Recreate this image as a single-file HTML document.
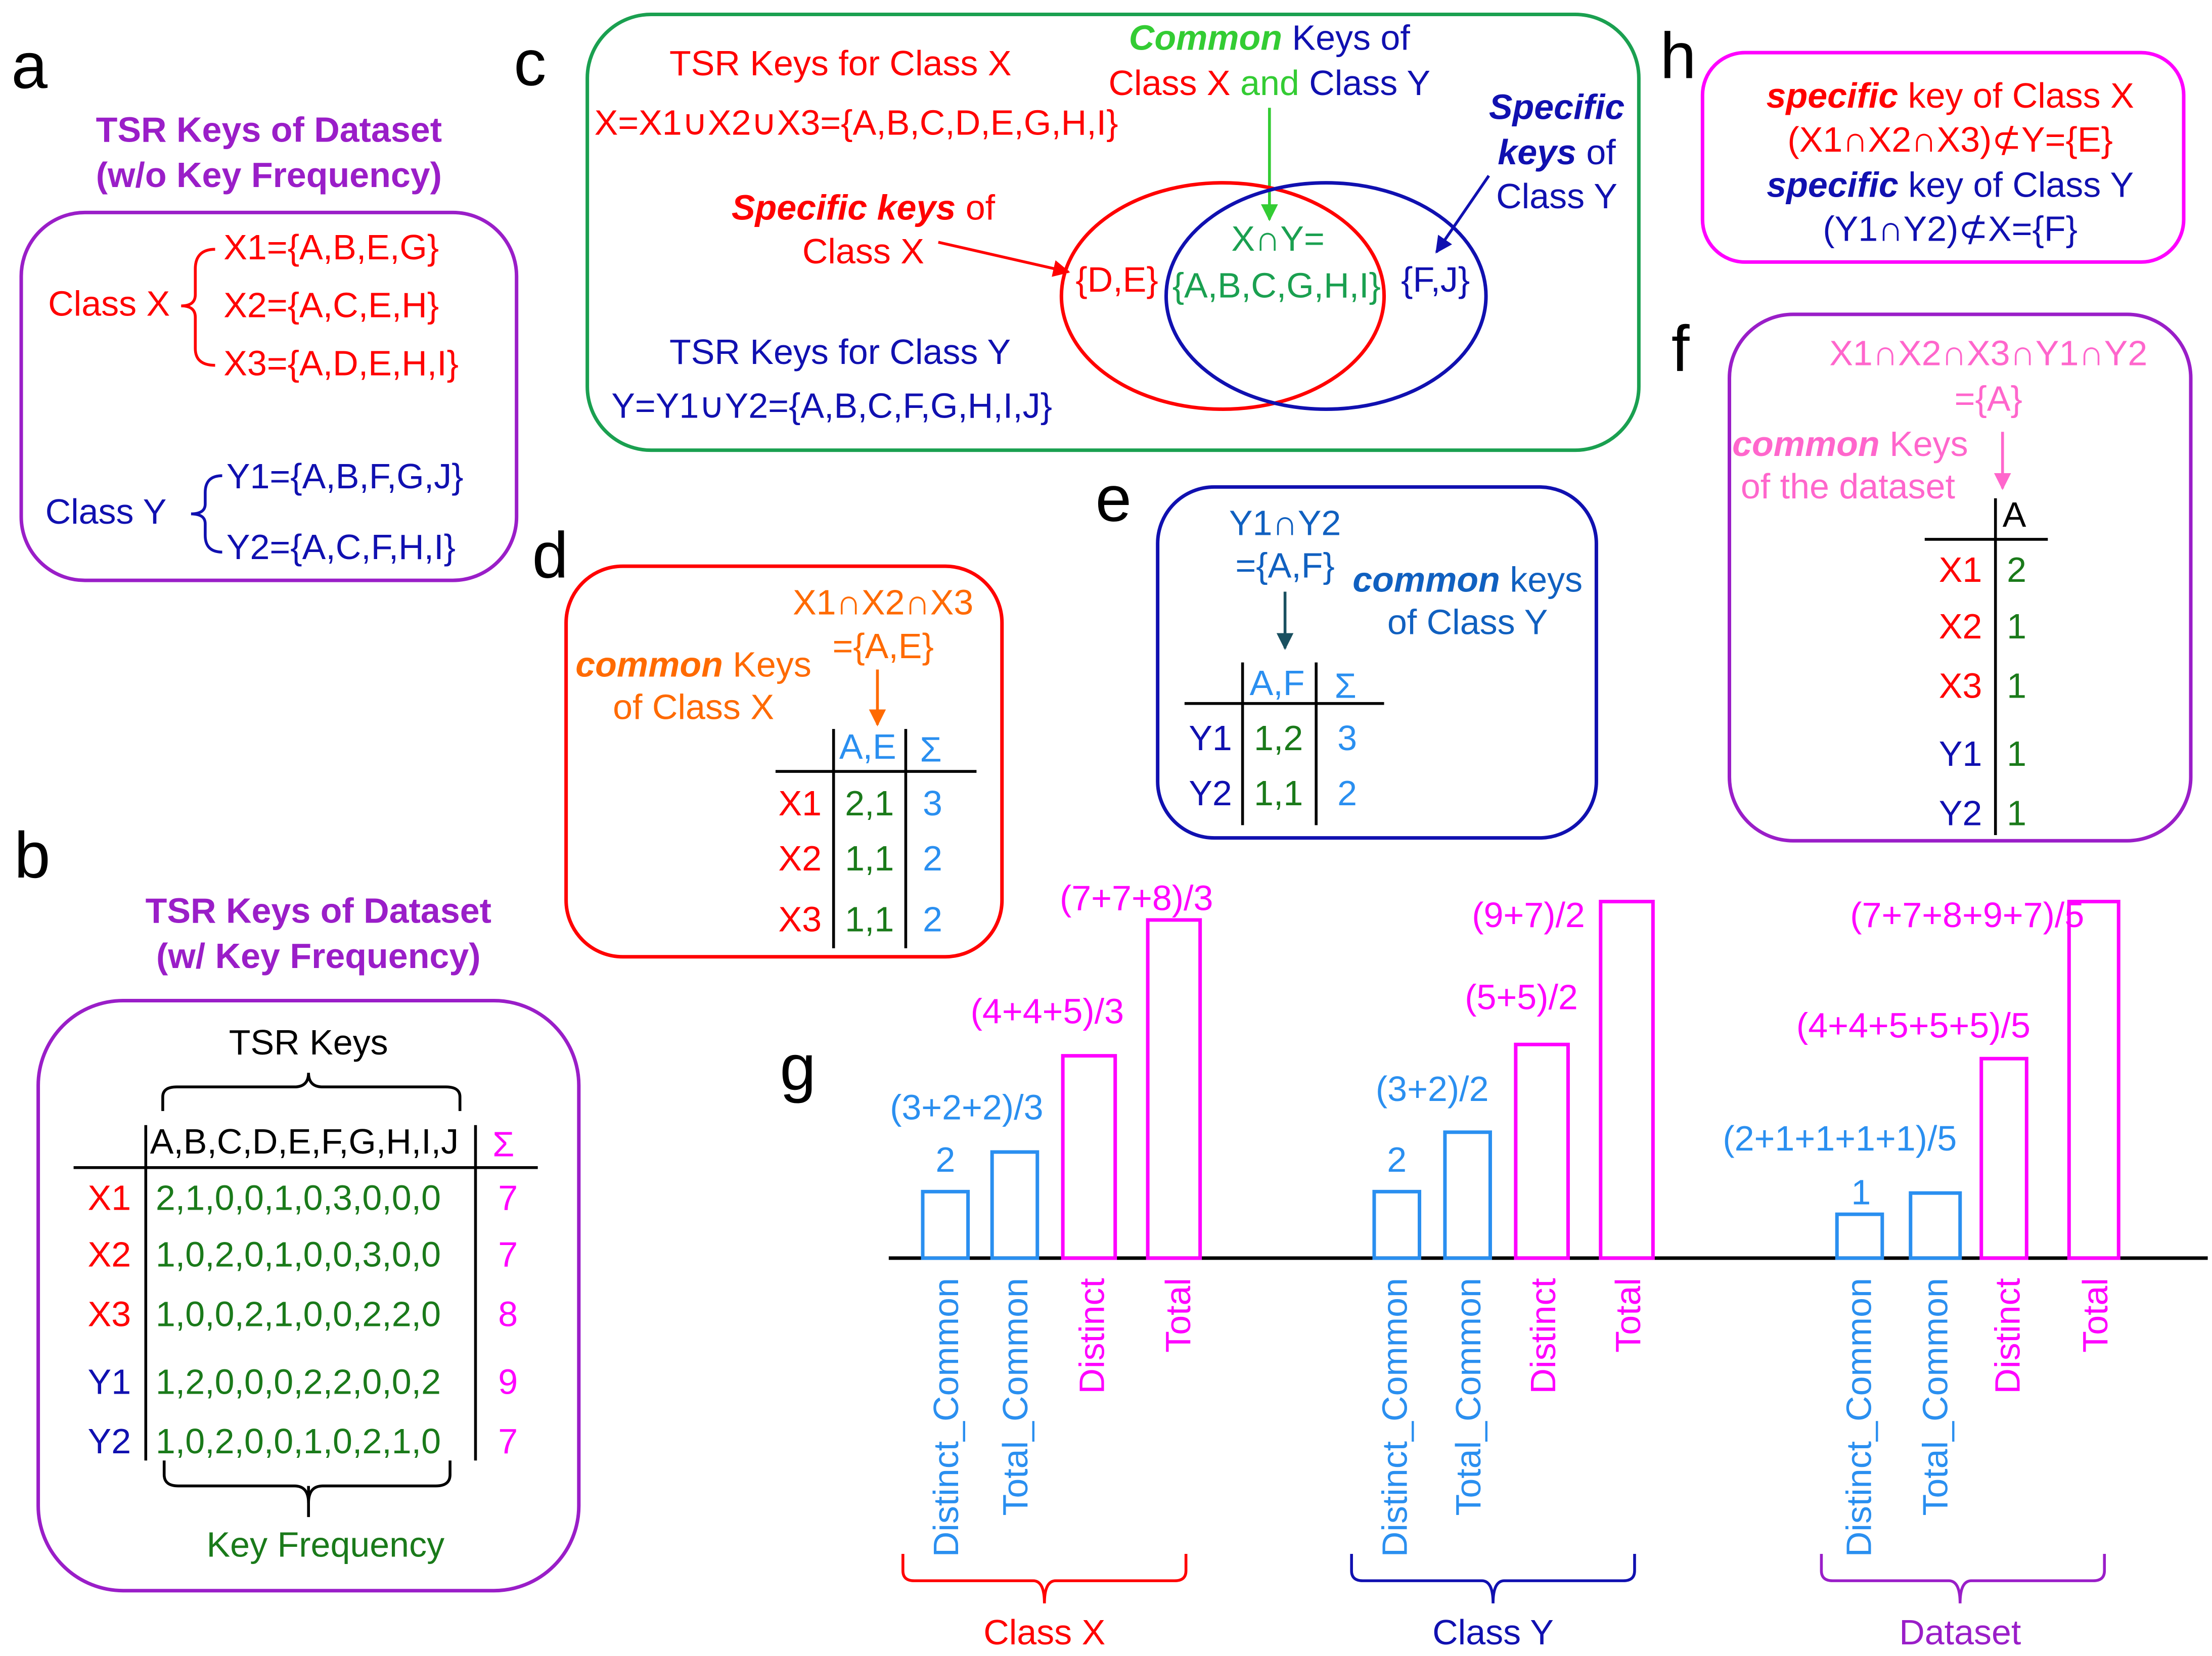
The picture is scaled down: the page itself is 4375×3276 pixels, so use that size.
<!DOCTYPE html>
<html><head><meta charset="utf-8"><style>
html,body{margin:0;padding:0;background:#fff}
svg{display:block}
text{font-family:"Liberation Sans",sans-serif;font-size:25px}
.L{font-size:46px;fill:#000}
.bi{font-weight:bold;font-style:italic}
</style></head><body>
<svg width="4375" height="3276" viewBox="0 0 1563 1170" xmlns="http://www.w3.org/2000/svg">
<defs>
<marker id="ag" viewBox="0 0 10 10" refX="9" refY="5" markerWidth="6" markerHeight="6" orient="auto"><path d="M0,0L10,5L0,10z" fill="#33cc33"/></marker>
<marker id="ar" viewBox="0 0 10 10" refX="9" refY="5" markerWidth="6" markerHeight="6" orient="auto"><path d="M0,0L10,5L0,10z" fill="#f00"/></marker>
<marker id="ab" viewBox="0 0 10 10" refX="9" refY="5" markerWidth="6" markerHeight="6" orient="auto"><path d="M0,0L10,5L0,10z" fill="#1010b0"/></marker>
<marker id="ao" viewBox="0 0 10 10" refX="9" refY="5" markerWidth="6" markerHeight="6" orient="auto"><path d="M0,0L10,5L0,10z" fill="#ff6a00"/></marker>
<marker id="at" viewBox="0 0 10 10" refX="9" refY="5" markerWidth="6" markerHeight="6" orient="auto"><path d="M0,0L10,5L0,10z" fill="#1a5060"/></marker>
<marker id="ap" viewBox="0 0 10 10" refX="9" refY="5" markerWidth="6" markerHeight="6" orient="auto"><path d="M0,0L10,5L0,10z" fill="#ff66cc"/></marker>
</defs>

<!-- a -->
<text class="L" x="8" y="62">a</text>
<g font-weight="bold" fill="#9a1ec8" text-anchor="middle"><text x="190" y="100">TSR Keys of Dataset</text><text x="190" y="132">(w/o Key Frequency)</text></g>
<rect x="15" y="150" width="350" height="260" rx="45" fill="none" stroke="#9a1ec8" stroke-width="2.5"/>
<g fill="#f00"><text x="34" y="223">Class X</text><text x="158" y="183">X1={A,B,E,G}</text><text x="158" y="224">X2={A,C,E,H}</text><text x="158" y="265">X3={A,D,E,H,I}</text></g>
<path d="M152,176 Q138,176 138,190 L138,208 Q138,216 128,216 Q138,216 138,224 L138,246 Q138,258 152,258" fill="none" stroke="#f00" stroke-width="2"/>
<g fill="#1010b0"><text x="32" y="370">Class Y</text><text x="160" y="345">Y1={A,B,F,G,J}</text><text x="160" y="395">Y2={A,C,F,H,I}</text></g>
<path d="M157,336 Q145,336 145,348 L145,356 Q145,363 135,363 Q145,363 145,370 L145,378 Q145,390 157,390" fill="none" stroke="#1010b0" stroke-width="2"/>

<!-- b -->
<text class="L" x="10" y="620">b</text>
<g font-weight="bold" fill="#9a1ec8" text-anchor="middle"><text x="225" y="652">TSR Keys of Dataset</text><text x="225" y="684">(w/ Key Frequency)</text></g>
<rect x="27" y="707" width="382" height="417" rx="60" fill="none" stroke="#9a1ec8" stroke-width="2.5"/>
<text x="218" y="745" text-anchor="middle">TSR Keys</text>
<path d="M115,785 L115,775 Q115,768 125,768 L208,768 Q218,768 218,758 Q218,768 228,768 L315,768 Q325,768 325,775 L325,785" fill="none" stroke="#000" stroke-width="2"/>
<text x="106" y="815">A,B,C,D,E,F,G,H,I,J</text>
<text x="348" y="817" fill="#f0f" font-size="27">Σ</text>
<line x1="52" y1="825" x2="380" y2="825" stroke="#000" stroke-width="2"/>
<line x1="103" y1="795" x2="103" y2="1032" stroke="#000" stroke-width="2"/>
<line x1="336" y1="795" x2="336" y2="1032" stroke="#000" stroke-width="2"/>
<g fill="#f00"><text x="62" y="855">X1</text><text x="62" y="895">X2</text><text x="62" y="937">X3</text></g>
<g fill="#1010b0"><text x="62" y="985">Y1</text><text x="62" y="1027">Y2</text></g>
<g fill="#1a7a1a"><text x="110" y="855">2,1,0,0,1,0,3,0,0,0</text><text x="110" y="895">1,0,2,0,1,0,0,3,0,0</text><text x="110" y="937">1,0,0,2,1,0,0,2,2,0</text><text x="110" y="985">1,2,0,0,0,2,2,0,0,2</text><text x="110" y="1027">1,0,2,0,0,1,0,2,1,0</text></g>
<g fill="#f0f"><text x="352" y="855">7</text><text x="352" y="895">7</text><text x="352" y="937">8</text><text x="352" y="985">9</text><text x="352" y="1027">7</text></g>
<path d="M116,1032 L116,1042 Q116,1050 126,1050 L208,1050 Q218,1050 218,1062 Q218,1050 228,1050 L308,1050 Q318,1050 318,1042 L318,1032" fill="none" stroke="#000" stroke-width="2"/>
<line x1="218" y1="1050" x2="218" y2="1072" stroke="#000" stroke-width="2"/>
<text x="230" y="1100" fill="#1a7a1a" text-anchor="middle">Key Frequency</text>

<!-- c -->
<text class="L" x="363" y="60">c</text>
<rect x="415" y="10" width="743" height="308" rx="45" fill="none" stroke="#1aa050" stroke-width="2.5"/>
<g fill="#f00"><text x="473" y="53">TSR Keys for Class X</text><text x="420" y="95">X=X1∪X2∪X3={A,B,C,D,E,G,H,I}</text></g>
<text x="897" y="35" text-anchor="middle" fill="#1010b0"><tspan fill="#33cc33" class="bi">Common</tspan> Keys of</text>
<text x="897" y="67" text-anchor="middle"><tspan fill="#f00">Class X</tspan><tspan fill="#33cc33"> and </tspan><tspan fill="#1010b0">Class Y</tspan></text>
<line x1="897" y1="76" x2="897" y2="155" stroke="#33cc33" stroke-width="2" marker-end="url(#ag)"/>
<ellipse cx="864" cy="209" rx="114" ry="80" fill="none" stroke="#f00" stroke-width="2.5"/>
<ellipse cx="937" cy="209" rx="113" ry="80" fill="none" stroke="#1010b0" stroke-width="2.5"/>
<g fill="#1aa050" text-anchor="middle"><text x="903" y="177">X∩Y=</text><text x="902" y="210">{A,B,C,G,H,I}</text></g>
<text x="760" y="206" fill="#f00">{D,E}</text>
<text x="990" y="206" fill="#1010b0">{F,J}</text>
<text x="610" y="155" text-anchor="middle" fill="#f00"><tspan class="bi">Specific keys</tspan> of</text>
<text x="610" y="186" text-anchor="middle" fill="#f00">Class X</text>
<line x1="663" y1="171" x2="755" y2="192" stroke="#f00" stroke-width="2" marker-end="url(#ar)"/>
<g fill="#1010b0" text-anchor="middle"><text x="1100" y="84" class="bi">Specific</text><text x="1100" y="116"><tspan class="bi">keys</tspan> of</text><text x="1100" y="147">Class Y</text></g>
<line x1="1052" y1="124" x2="1015" y2="178" stroke="#1010b0" stroke-width="2" marker-end="url(#ab)"/>
<g fill="#1010b0"><text x="473" y="257">TSR Keys for Class Y</text><text x="432" y="295">Y=Y1∪Y2={A,B,C,F,G,H,I,J}</text></g>

<!-- h -->
<text class="L" x="1173" y="55">h</text>
<rect x="1203" y="37" width="340" height="148" rx="30" fill="none" stroke="#f0f" stroke-width="2.5"/>
<g text-anchor="middle"><text x="1378" y="76" fill="#f00"><tspan class="bi">specific</tspan> key of Class X</text><text x="1378" y="107" fill="#f00">(X1∩X2∩X3)⊄Y={E}</text><text x="1378" y="139" fill="#1010b0"><tspan class="bi">specific</tspan> key of Class Y</text><text x="1378" y="170" fill="#1010b0">(Y1∩Y2)⊄X={F}</text></g>

<!-- f -->
<text class="L" x="1181" y="262">f</text>
<rect x="1222" y="222" width="326" height="372" rx="45" fill="none" stroke="#9a1ec8" stroke-width="2.5"/>
<g fill="#ff66cc"><text x="1405" y="258" text-anchor="middle">X1∩X2∩X3∩Y1∩Y2</text><text x="1405" y="290" text-anchor="middle">={A}</text><text x="1224" y="322"><tspan class="bi">common</tspan> Keys</text><text x="1230" y="352">of the dataset</text></g>
<line x1="1415" y1="305" x2="1415" y2="345" stroke="#ff66cc" stroke-width="2" marker-end="url(#ap)"/>
<text x="1415" y="372">A</text>
<line x1="1360" y1="381" x2="1447" y2="381" stroke="#000" stroke-width="2"/>
<line x1="1410" y1="352" x2="1410" y2="590" stroke="#000" stroke-width="2"/>
<g fill="#f00"><text x="1370" y="411">X1</text><text x="1370" y="451">X2</text><text x="1370" y="493">X3</text></g>
<g fill="#1010b0"><text x="1370" y="541">Y1</text><text x="1370" y="583">Y2</text></g>
<g fill="#1a7a1a"><text x="1418" y="411">2</text><text x="1418" y="451">1</text><text x="1418" y="493">1</text><text x="1418" y="541">1</text><text x="1418" y="583">1</text></g>

<!-- d -->
<text class="L" x="376" y="408">d</text>
<rect x="400" y="400" width="308" height="276" rx="40" fill="none" stroke="#f00" stroke-width="2.5"/>
<g fill="#ff6a00" text-anchor="middle"><text x="624" y="434">X1∩X2∩X3</text><text x="624" y="465">={A,E}</text><text x="490" y="478"><tspan class="bi">common</tspan> Keys</text><text x="490" y="508">of Class X</text></g>
<line x1="620" y1="473" x2="620" y2="512" stroke="#ff6a00" stroke-width="2" marker-end="url(#ao)"/>
<text x="593" y="536" fill="#2a8ff0">A,E</text><text x="650" y="538" fill="#2a8ff0" font-size="27">Σ</text>
<line x1="548" y1="545" x2="690" y2="545" stroke="#000" stroke-width="2"/>
<line x1="589" y1="515" x2="589" y2="670" stroke="#000" stroke-width="2"/>
<line x1="640" y1="515" x2="640" y2="670" stroke="#000" stroke-width="2"/>
<g fill="#f00"><text x="550" y="576">X1</text><text x="550" y="615">X2</text><text x="550" y="658">X3</text></g>
<g fill="#1a7a1a"><text x="597" y="576">2,1</text><text x="597" y="615">1,1</text><text x="597" y="658">1,1</text></g>
<g fill="#2a8ff0"><text x="652" y="576">3</text><text x="652" y="615">2</text><text x="652" y="658">2</text></g>

<!-- e -->
<text class="L" x="774" y="368">e</text>
<rect x="818" y="344" width="310" height="248" rx="40" fill="none" stroke="#1010b0" stroke-width="2.5"/>
<g fill="#1060c0" text-anchor="middle"><text x="908" y="378">Y1∩Y2</text><text x="908" y="408">={A,F}</text><text x="1037" y="418"><tspan class="bi">common</tspan> keys</text><text x="1037" y="448">of Class Y</text></g>
<line x1="908" y1="418" x2="908" y2="458" stroke="#1a5060" stroke-width="2" marker-end="url(#at)"/>
<text x="883" y="491" fill="#2a8ff0">A,F</text><text x="943" y="493" fill="#2a8ff0" font-size="27">Σ</text>
<line x1="837" y1="497" x2="978" y2="497" stroke="#000" stroke-width="2"/>
<line x1="878" y1="468" x2="878" y2="583" stroke="#000" stroke-width="2"/>
<line x1="930" y1="468" x2="930" y2="583" stroke="#000" stroke-width="2"/>
<g fill="#1010b0"><text x="840" y="530">Y1</text><text x="840" y="569">Y2</text></g>
<g fill="#1a7a1a"><text x="886" y="530">1,2</text><text x="886" y="569">1,1</text></g>
<g fill="#2a8ff0"><text x="945" y="530">3</text><text x="945" y="569">2</text></g>

<!-- g -->
<text class="L" x="551" y="770">g</text>
<line x1="628" y1="889" x2="1560" y2="889" stroke="#000" stroke-width="2.5"/>
<g fill="none" stroke-width="2.5">
<rect x="652" y="842" width="32" height="47" stroke="#2a8ff0"/><rect x="701" y="814" width="32" height="75" stroke="#2a8ff0"/>
<rect x="751" y="746" width="37" height="143" stroke="#f0f"/><rect x="811" y="650" width="37" height="239" stroke="#f0f"/>
<rect x="971" y="842" width="32" height="47" stroke="#2a8ff0"/><rect x="1021" y="800" width="32" height="89" stroke="#2a8ff0"/>
<rect x="1071" y="738" width="37" height="151" stroke="#f0f"/><rect x="1131" y="637" width="37" height="252" stroke="#f0f"/>
<rect x="1298" y="858" width="32" height="31" stroke="#2a8ff0"/><rect x="1350" y="843" width="35" height="46" stroke="#2a8ff0"/>
<rect x="1400" y="748" width="32" height="141" stroke="#f0f"/><rect x="1462" y="637" width="35" height="252" stroke="#f0f"/>
</g>
<g text-anchor="middle" fill="#2a8ff0"><text x="668" y="828">2</text><text x="683" y="791">(3+2+2)/3</text><text x="987" y="828">2</text><text x="1012" y="778">(3+2)/2</text><text x="1315" y="851">1</text><text x="1300" y="813">(2+1+1+1+1)/5</text></g>
<g text-anchor="middle" fill="#f0f"><text x="740" y="723">(4+4+5)/3</text><text x="803" y="643">(7+7+8)/3</text><text x="1075" y="713">(5+5)/2</text><text x="1080" y="655">(9+7)/2</text><text x="1352" y="733">(4+4+5+5+5)/5</text><text x="1390" y="655">(7+7+8+9+7)/5</text></g>
<g text-anchor="end">
<text transform="translate(677,903) rotate(-90)" fill="#2a8ff0">Distinct_Common</text>
<text transform="translate(726,903) rotate(-90)" fill="#2a8ff0">Total_Common</text>
<text transform="translate(780,903) rotate(-90)" fill="#f0f">Distinct</text>
<text transform="translate(841,903) rotate(-90)" fill="#f0f">Total</text>
<text transform="translate(994,903) rotate(-90)" fill="#2a8ff0">Distinct_Common</text>
<text transform="translate(1046,903) rotate(-90)" fill="#2a8ff0">Total_Common</text>
<text transform="translate(1099,903) rotate(-90)" fill="#f0f">Distinct</text>
<text transform="translate(1159,903) rotate(-90)" fill="#f0f">Total</text>
<text transform="translate(1322,903) rotate(-90)" fill="#2a8ff0">Distinct_Common</text>
<text transform="translate(1376,903) rotate(-90)" fill="#2a8ff0">Total_Common</text>
<text transform="translate(1427,903) rotate(-90)" fill="#f0f">Distinct</text>
<text transform="translate(1489,903) rotate(-90)" fill="#f0f">Total</text>
</g>
<g fill="none" stroke-width="2">
<path d="M638,1098 L638,1110 Q638,1117 646,1117 L730,1117 Q738,1117 738,1133 Q738,1117 746,1117 L830,1117 Q838,1117 838,1110 L838,1098" stroke="#f00"/>
<path d="M955,1098 L955,1110 Q955,1117 963,1117 L1047,1117 Q1055,1117 1055,1133 Q1055,1117 1063,1117 L1147,1117 Q1155,1117 1155,1110 L1155,1098" stroke="#1010b0"/>
<path d="M1287,1098 L1287,1110 Q1287,1117 1295,1117 L1377,1117 Q1385,1117 1385,1133 Q1385,1117 1393,1117 L1479,1117 Q1487,1117 1487,1110 L1487,1098" stroke="#9a1ec8"/>
</g>
<g text-anchor="middle"><text x="738" y="1162" fill="#f00">Class X</text><text x="1055" y="1162" fill="#1010b0">Class Y</text><text x="1385" y="1162" fill="#9a1ec8">Dataset</text></g>
</svg>
</body></html>
